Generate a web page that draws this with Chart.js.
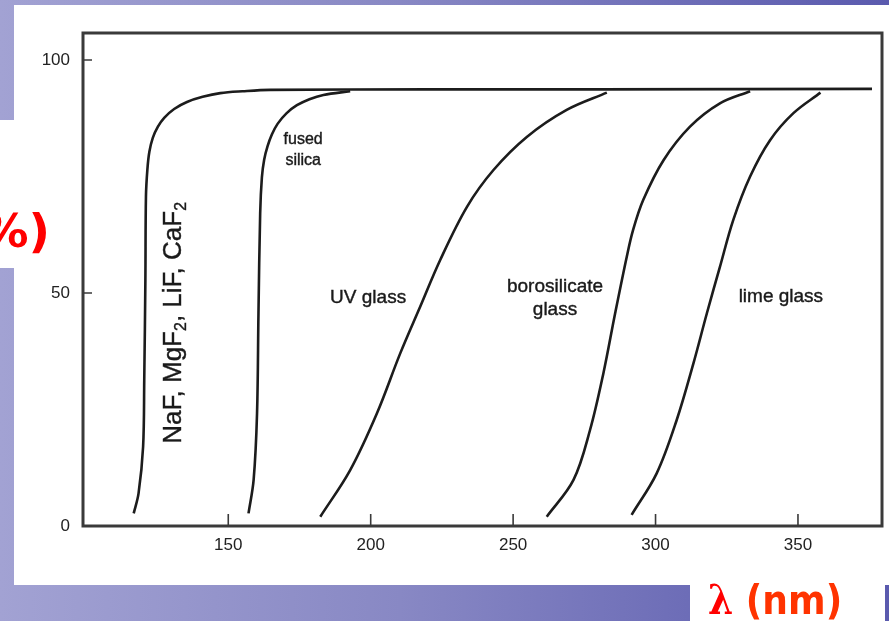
<!DOCTYPE html>
<html>
<head>
<meta charset="utf-8">
<script src="https://cdn.jsdelivr.net/npm/chart.js@4.4.1/dist/chart.umd.min.js"></script>
<style>
  html, body { margin: 0; padding: 0; }
  body {
    width: 889px; height: 621px; overflow: hidden; position: relative;
    background: linear-gradient(to right, #a2a2d3, #8888c4 45%, #5a5aae);
  }
  .white { position: absolute; background: #fff; }
  #chartWrap { position: absolute; left: 0; top: 0; width: 889px; height: 621px; }
  .red { position: absolute; font-family: "DejaVu Sans", sans-serif; font-weight: bold; white-space: nowrap; }
</style>
</head>
<body>
<div class="white" style="left:14px;top:5px;width:875px;height:580px"></div>
<div class="white" style="left:0;top:120px;width:14px;height:148px"></div>
<div class="white" style="left:690px;top:585px;width:195px;height:36px"></div>

<div id="chartWrap"><canvas id="chart" width="889" height="621"></canvas></div>

<div class="red" style="right:839px;top:198px;font-size:47px;line-height:66px;color:#ff0000">T (%)</div>
<div class="red" style="left:708px;top:574px;font-size:41px;line-height:52px;transform:scaleX(0.88);transform-origin:left center"><span style="color:#ff0000;font-family:'DejaVu Serif',serif">λ</span> <span style="color:#ff3300">(nm)</span></div>

<script>
// wavelength (nm) / transmission (%)
const nafWl = [116.8, 118.5, 120.1, 120.5, 120.9, 121.1, 121.6, 122.3, 123.5, 125.3, 127.5, 131, 135.5, 141, 147.2, 155, 164.7, 220, 280, 376];
const nafT  = [2.7, 7.0, 17, 31.3, 52.8, 70.7, 76.5, 80.3, 83.3, 85.7, 87.6, 89.5, 91.0, 92.1, 92.9, 93.3, 93.6, 93.7, 93.7, 93.8];

const silicaWl = [157.1, 158.9, 160.1, 160.6, 161.2, 161.8, 162.6, 163.8, 165.3, 167.3, 170.5, 174.1, 178.5, 183.4, 192.8];
const silicaT  = [2.7, 9.9, 24.2, 45.6, 67.1, 74.8, 78.6, 81.5, 84.0, 86.3, 88.6, 90.3, 91.6, 92.5, 93.3];

const uvWl = [182.3, 192.8, 202.2, 210.4, 217.4, 224.4, 233.8, 243.1, 254.8, 268.8, 282.9];
const uvT  = [2.0, 12.0, 24.2, 37.1, 47.1, 57.1, 68.5, 76.4, 83.5, 89.3, 93.0];

const boroWl = [261.8, 271.2, 277.0, 281.7, 285.8, 289.9, 292.1, 295.7, 302.8, 312.1, 322.6, 333.2];
const boroT  = [2.0, 9.9, 20.6, 32.8, 45.6, 57.8, 63.5, 70.0, 78.5, 85.7, 90.7, 93.3];

const limeWl = [291.6, 300.4, 307.4, 313.3, 318.0, 322.6, 327.3, 333.2, 340.2, 348.4, 357.9];
const limeT  = [2.4, 11.3, 22.7, 34.9, 45.6, 55.6, 65.7, 75.0, 82.8, 88.6, 93.0];

const xTicks = [150, 200, 250, 300, 350];
const yTicks = [0, 50, 100];

// text labels anchored in data coordinates
const curveLabels = [
  { lines: ['fused', 'silica'], wl: 176.3, t: [83.0, 78.5], size: 16 },
  { lines: ['UV glass'], wl: 199.1, t: [48.9], size: 19 },
  { lines: ['borosilicate', 'glass'], wl: 264.7, t: [51.3, 46.4], size: 19 },
  { lines: ['lime glass'], wl: 344.0, t: [49.1], size: 19 }
];
const nafLabel = [
  { s: 'NaF, MgF' }, { s: '2', sub: true }, { s: ', LiF, CaF' }, { s: '2', sub: true }
];
const nafLabelAt = { wl: 130.4, t: 43.6 };

const pairs = (xs, ys) => xs.map((x, i) => ({ x: x, y: ys[i] }));
const lineStyle = {
  borderColor: '#1c1c1c', borderWidth: 2.6, pointRadius: 0,
  fill: false, tension: 0.35
};

const FONT = '"Liberation Sans", Arial, sans-serif';

const decor = {
  id: 'decor',
  afterDatasetsDraw(chart) {
    const { ctx, chartArea: a, scales: { x, y } } = chart;
    ctx.save();
    // frame
    ctx.strokeStyle = '#3a3a3a';
    ctx.lineWidth = 3;
    ctx.strokeRect(a.left, a.top, a.right - a.left, a.bottom - a.top);
    // inward ticks
    ctx.lineWidth = 1.6;
    ctx.beginPath();
    xTicks.forEach(v => {
      const px = x.getPixelForValue(v);
      ctx.moveTo(px, a.bottom); ctx.lineTo(px, a.bottom - 12);
    });
    yTicks.forEach(v => {
      const py = y.getPixelForValue(v);
      ctx.moveTo(a.left, py); ctx.lineTo(a.left + 9, py);
    });
    ctx.stroke();

    // curve labels (slight stroke to mimic the heavy scanned print)
    ctx.fillStyle = '#1a1a1a';
    ctx.strokeStyle = '#1a1a1a';
    ctx.lineWidth = 0.4;
    ctx.textAlign = 'center';
    ctx.textBaseline = 'middle';
    curveLabels.forEach(l => {
      ctx.font = l.size + 'px ' + FONT;
      l.lines.forEach((s, i) => {
        const px = x.getPixelForValue(l.wl), py = y.getPixelForValue(l.t[i]);
        ctx.fillText(s, px, py);
        ctx.strokeText(s, px, py);
      });
    });

    // rotated crystal label with subscripts
    const size = 26, subSize = 16;
    ctx.translate(x.getPixelForValue(nafLabelAt.wl), y.getPixelForValue(nafLabelAt.t));
    ctx.rotate(-Math.PI / 2);
    ctx.textAlign = 'left';
    ctx.textBaseline = 'alphabetic';
    let w = 0;
    nafLabel.forEach(p => {
      ctx.font = (p.sub ? subSize : size) + 'px ' + FONT;
      w += ctx.measureText(p.s).width;
    });
    let cx = -w / 2;
    nafLabel.forEach(p => {
      ctx.font = (p.sub ? subSize : size) + 'px ' + FONT;
      ctx.fillText(p.s, cx, p.sub ? 14 : 9);
      ctx.strokeText(p.s, cx, p.sub ? 14 : 9);
      cx += ctx.measureText(p.s).width;
    });
    ctx.restore();
  }
};

new Chart(document.getElementById('chart'), {
  type: 'line',
  data: {
    datasets: [
      { label: 'NaF, MgF2, LiF, CaF2', data: pairs(nafWl, nafT), ...lineStyle },
      { label: 'fused silica', data: pairs(silicaWl, silicaT), ...lineStyle },
      { label: 'UV glass', data: pairs(uvWl, uvT), ...lineStyle },
      { label: 'borosilicate glass', data: pairs(boroWl, boroT), ...lineStyle },
      { label: 'lime glass', data: pairs(limeWl, limeT), ...lineStyle }
    ]
  },
  options: {
    responsive: false,
    animation: false,
    devicePixelRatio: 1,
    layout: { padding: { top: 33, right: 7, left: 0, bottom: 0 } },
    plugins: { legend: { display: false }, tooltip: { enabled: false } },
    scales: {
      x: {
        type: 'linear', min: 99, max: 379.5,
        afterBuildTicks: s => { s.ticks = xTicks.map(v => ({ value: v })); },
        afterFit: s => { s.height = 95; },
        grid: { display: false, drawTicks: false },
        border: { display: false },
        ticks: { padding: 9, color: '#222', font: { family: FONT, size: 17 } }
      },
      y: {
        type: 'linear', min: 0, max: 105.8,
        afterBuildTicks: s => { s.ticks = yTicks.map(v => ({ value: v })); },
        afterFit: s => { s.width = 83; },
        grid: { display: false, drawTicks: false },
        border: { display: false },
        ticks: { padding: 13, color: '#222', font: { family: FONT, size: 17 } }
      }
    }
  },
  plugins: [decor]
});
</script>
</body>
</html>
